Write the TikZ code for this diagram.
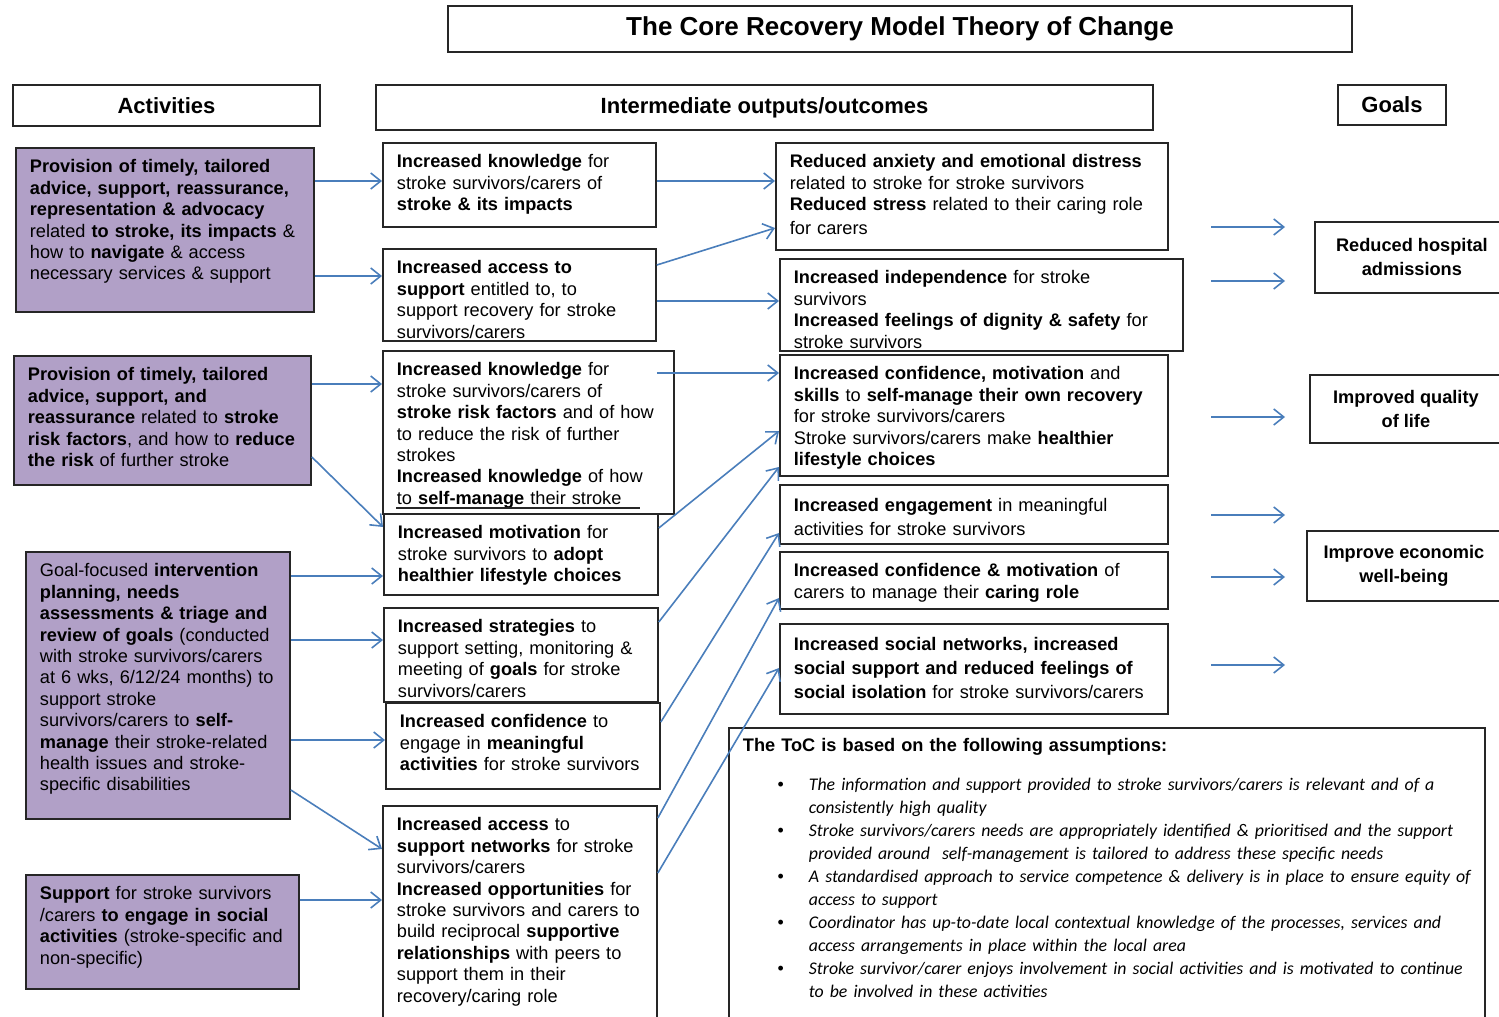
\documentclass[tikz,border=0pt]{standalone}
\usepackage{fontspec}
\setmainfont{Liberation Sans}
\newfontfamily\calibri{Carlito}
\usetikzlibrary{arrows.meta,calc}

\definecolor{actfill}{HTML}{B1A0C7}
\definecolor{arrowblue}{HTML}{4A7EBB}
\definecolor{edge}{HTML}{262626}

% top aligned text of a box, one tabular row per printed line
\newcommand{\boxtext}[2]{\parbox[t][#1][t]{\linewidth}{\begin{tabular}[t]{@{}l@{}}#2\end{tabular}}}

\tikzset{
  every node/.style={font=\fontsize{9.1}{10.7}\selectfont},
  cell/.style={draw=edge, line width=0.9pt, anchor=north west, inner xsep=7pt, inner ysep=5pt},
  actbox/.style={cell, fill=actfill},
  headbox/.style={draw=edge, line width=0.9pt, font=\fontsize{11}{13}\selectfont\bfseries},
  goalbox/.style={draw=edge, line width=0.9pt, anchor=north west, align=center, font=\fontsize{9.1}{12}\selectfont\bfseries},
  flow/.style={draw=arrowblue, line width=0.8pt, -{Straight Barb[length=5pt,width=8pt]}},
}

\begin{document}
\begin{tikzpicture}[x=0.5pt,y=-0.5pt]
  \clip (0,0) rectangle (1499,1017);

  % title and column heads
  \node[draw=edge, line width=0.9pt, minimum width=452pt, minimum height=23pt,
    font=\fontsize{13}{15}\selectfont\bfseries] (title) at (900,29) {The Core Recovery Model Theory of Change};
  \node[headbox, minimum width=153.5pt, minimum height=20.5pt] (hact) at (166.5,105.5) {Activities};
  \node[headbox, minimum width=388.5pt, minimum height=22.5pt] (hout) at (764.5,107.5) {Intermediate outputs/outcomes};
  \node[headbox, minimum width=54pt, minimum height=20pt] (hgoal) at (1392,105) {Goals};

  % activities
  \node[actbox, text width=135pt] (act1) at (15,147) {\boxtext{72pt}{%
    \textbf{Provision of timely, tailored}\\
    \textbf{advice, support, reassurance,}\\
    \textbf{representation \& advocacy}\\
    related \textbf{to stroke, its impacts} \&\\
    how to \textbf{navigate} \& access\\
    necessary services \& support}};
  \node[actbox, text width=134.5pt] (act2) at (13,355) {\boxtext{54.5pt}{%
    \textbf{Provision of timely, tailored}\\
    \textbf{advice, support, and}\\
    \textbf{reassurance} related to \textbf{stroke}\\
    \textbf{risk factors}, and how to \textbf{reduce}\\
    \textbf{the risk} of further stroke}};
  \node[actbox, text width=118pt] (act3) at (25,551) {\boxtext{123.5pt}{%
    Goal-focused \textbf{intervention}\\
    \textbf{planning, needs}\\
    \textbf{assessments \& triage and}\\
    \textbf{review of goals} (conducted\\
    with stroke survivors/carers\\
    at 6 wks, 6/12/24 months) to\\
    support stroke\\
    survivors/carers to \textbf{self-}\\
    \textbf{manage} their stroke-related\\
    health issues and stroke-\\
    specific disabilities}};
  \node[actbox, text width=122.5pt] (act4) at (25,874) {\boxtext{47pt}{%
    \textbf{Support} for stroke survivors\\
    /carers \textbf{to engage in social}\\
    \textbf{activities} (stroke-specific and\\
    non-specific)}};

  % outputs
  \node[cell, text width=122.5pt] (o1) at (382,142) {\boxtext{32pt}{%
    \textbf{Increased knowledge} for\\
    stroke survivors/carers of\\
    \textbf{stroke \& its impacts}}};
  \node[cell, text width=122.5pt] (o2) at (382,248) {\boxtext{36pt}{%
    \textbf{Increased access to}\\
    \textbf{support} entitled to, to\\
    support recovery for stroke\\
    survivors/carers}};
  \node[cell, text width=131.5pt] (o3) at (382,350) {\boxtext{71.5pt}{%
    \textbf{Increased knowledge} for\\
    stroke survivors/carers of\\
    \textbf{stroke risk factors} and of how\\
    to reduce the risk of further\\
    strokes\\
    \textbf{Increased knowledge} of how\\
    to \textbf{self-manage} their stroke}};
  \draw[draw=edge, line width=0.9pt] ($(o3.south west)+(14,-7)$) -- ++(244,0);
  \node[cell, text width=123pt] (o4) at (383,513) {\boxtext{30.5pt}{%
    \textbf{Increased motivation} for\\
    stroke survivors to \textbf{adopt}\\
    \textbf{healthier lifestyle choices}}};
  \node[cell, text width=123pt] (o5) at (383,607) {\boxtext{37pt}{%
    \textbf{Increased strategies} to\\
    support setting, monitoring \&\\
    meeting of \textbf{goals} for stroke\\
    survivors/carers}};
  \node[cell, text width=123pt] (o6) at (385,702) {\boxtext{33pt}{%
    \textbf{Increased confidence} to\\
    engage in \textbf{meaningful}\\
    \textbf{activities} for stroke survivors}};
  \node[cell, text width=123pt] (o7) at (382,805) {\boxtext{100pt}{%
    \textbf{Increased access} to\\
    \textbf{support networks} for stroke\\
    survivors/carers\\
    \textbf{Increased opportunities} for\\
    stroke survivors and carers to\\
    build reciprocal \textbf{supportive}\\
    \textbf{relationships} with peers to\\
    support them in their\\
    recovery/caring role}};

  % outcomes
  \node[cell, text width=182pt] (r1) at (775,142) {\boxtext{43.5pt}{%
    \textbf{Reduced anxiety and emotional distress}\\
    related to stroke for stroke survivors\\
    \textbf{Reduced stress} related to their caring role\\[1.2pt]
    for carers}};
  \node[cell, text width=187.5pt] (r2) at (779,258) {\boxtext{36pt}{%
    \textbf{Increased independence} for stroke\\
    survivors\\
    \textbf{Increased feelings of dignity \& safety} for\\
    stroke survivors}};
  \node[cell, text width=180pt] (r3) at (779,354) {\boxtext{50.5pt}{%
    \textbf{Increased confidence, motivation} and\\
    \textbf{skills} to \textbf{self-manage their own recovery}\\
    for stroke survivors/carers\\
    Stroke survivors/carers make \textbf{healthier}\\
    \textbf{lifestyle choices}}};
  \node[cell, text width=180pt, font=\fontsize{9.1}{12}\selectfont] (r4) at (779,484) {\boxtext{19.5pt}{%
    \textbf{Increased engagement} in meaningful\\
    activities for stroke survivors}};
  \node[cell, text width=180pt] (r5) at (779,551) {\boxtext{18.5pt}{%
    \textbf{Increased confidence \& motivation} of\\
    carers to manage their \textbf{caring role}}};
  \node[cell, text width=180pt, font=\fontsize{9.1}{12}\selectfont] (r6) at (779,623) {\boxtext{35pt}{%
    \textbf{Increased social networks, increased}\\
    \textbf{social support and reduced feelings of}\\
    \textbf{social isolation} for stroke survivors/carers}};

  % goals
  \node[goalbox, minimum width=97pt, minimum height=35.5pt] (goal1) at (1314,221) {Reduced hospital\\admissions};
  \node[goalbox, minimum width=96pt, minimum height=34pt] (goal2) at (1309,374) {Improved quality\\of life};
  \node[goalbox, minimum width=97pt, minimum height=35pt] (goal3) at (1306,530) {Improve economic\\well-being};

  % assumptions
  \node[cell, text width=364pt] (assume) at (728,727) {\parbox[t][141.5pt][t]{\linewidth}{%
    \textbf{The ToC is based on the following assumptions:}\par
    \vspace{8pt}
    {\calibri\itshape\fontsize{8.9}{11.5}\selectfont
    \begin{list}{{\rmfamily\upshape\textbullet}}{\setlength{\leftmargin}{33pt}\setlength{\labelwidth}{5pt}%
      \setlength{\labelsep}{12.5pt}\setlength{\rightmargin}{-20pt}\setlength{\topsep}{0pt}%
      \setlength{\partopsep}{0pt}\setlength{\parsep}{0pt}\setlength{\itemsep}{0pt}}
    \item The information and support provided to stroke survivors/carers is relevant and of a\\
      consistently high quality
    \item Stroke survivors/carers needs are appropriately identified \& prioritised and the support\\
      provided around\ \ self-management is tailored to address these specific needs
    \item A standardised approach to service competence \& delivery is in place to ensure equity of\\
      access to support
    \item Coordinator has up-to-date local contextual knowledge of the processes, services and\\
      access arrangements in place within the local area
    \item Stroke survivor/carer enjoys involvement in social activities and is motivated to continue\\
      to be involved in these activities
    \end{list}}}};

  % activities to outputs
  \draw[flow] (act1.east |- 0,181) -- (o1.west |- 0,181);
  \draw[flow] (act1.east |- 0,276) -- (o2.west |- 0,276);
  \draw[flow] (act2.east |- 0,384) -- (o3.west |- 0,384);
  \draw[flow] (act2.east |- 0,457) -- (o4.west |- 0,527);
  \draw[flow] (act3.east |- 0,576) -- (o4.west |- 0,576);
  \draw[flow] (act3.east |- 0,640) -- (o5.west |- 0,640);
  \draw[flow] (act3.east |- 0,740) -- (o6.west |- 0,740);
  \draw[flow] (act3.east |- 0,790) -- (o7.west |- 0,849);
  \draw[flow] (act4.east |- 0,900) -- (o7.west |- 0,900);

  % outputs to outcomes
  \draw[flow] (o1.east |- 0,181) -- (r1.west |- 0,181);
  \draw[flow] (o2.east |- 0,265) -- (r1.west |- 0,228);
  \draw[flow] (o2.east |- 0,301) -- (r2.west |- 0,301);
  \draw[flow] ($(o3.east |- 0,373)+(-18,0)$) -- (r3.west |- 0,373);
  \draw[flow] (o4.east |- 0,528) -- (r3.west |- 0,431);
  \draw[flow] (o5.east |- 0,622) -- (r3.west |- 0,467);
  \draw[flow] (o6.east |- 0,722) -- (r4.west |- 0,533);
  \draw[flow] (o7.east |- 0,818) -- (r5.west |- 0,598);
  \draw[flow] (o7.east |- 0,873) -- (r6.west |- 0,668);

  % arrows towards the goals
  \foreach \y [count=\i] in {227,281,417,515,577,665} {
    \coordinate (from\i) at (1211,\y);
    \coordinate (to\i) at (1285,\y);
    \draw[flow] (from\i) -- (to\i);
  }
\end{tikzpicture}
\end{document}
